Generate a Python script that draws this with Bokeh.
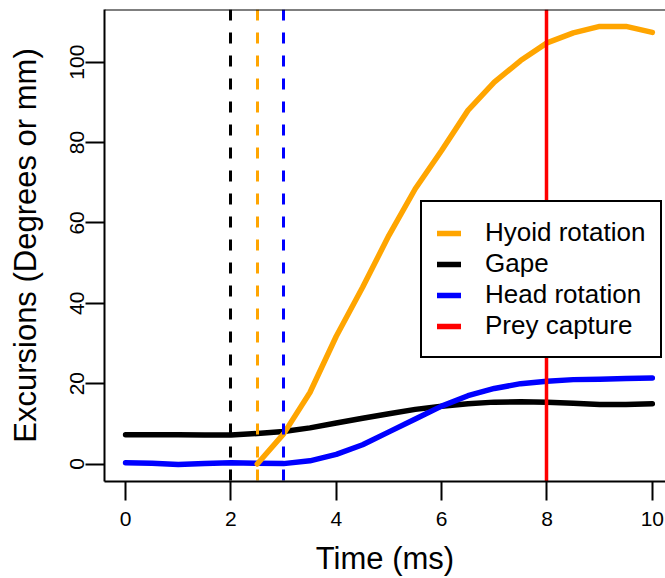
from bokeh.plotting import figure
from bokeh.models import Range1d, FixedTicker, Span, Legend, LegendItem
from bokeh.embed import file_html
from bokeh.resources import INLINE

# ---- data ----
time = [0, 0.5, 1, 1.5, 2, 2.5, 3, 3.5, 4, 4.5, 5, 5.5, 6, 6.5, 7, 7.5, 8, 8.5, 9, 9.5, 10]
gape = [7.3, 7.3, 7.3, 7.2, 7.2, 7.6, 8.1, 9.0, 10.2, 11.4, 12.5, 13.6, 14.4, 15.0, 15.4, 15.5, 15.4, 15.1, 14.8, 14.8, 15.0]
head_rotation = [0.3, 0.2, -0.1, 0.1, 0.3, 0.2, 0.1, 0.8, 2.4, 4.8, 8.0, 11.2, 14.4, 17.0, 18.8, 20.0, 20.6, 21.0, 21.1, 21.3, 21.4]
hyoid_time = [2.5, 3, 3.5, 4, 4.5, 5, 5.5, 6, 6.5, 7, 7.5, 8, 8.5, 9, 9.5, 10]
hyoid_rotation = [0, 7.5, 17.8, 31.8, 44.0, 56.9, 68.5, 78.0, 88.0, 95.0, 100.4, 104.8, 107.3, 108.9, 108.9, 107.4]

onset_times = [2, 2.5, 3]            # gape, hyoid, head onsets
onset_colors = ["black", "orange", "blue"]
prey_capture = [8]

x_ticks = [0, 2, 4, 6, 8, 10]
y_ticks = [0, 20, 40, 60, 80, 100]
legend_labels = ["Hyoid rotation", "Gape", "Head rotation", "Prey capture"]

FONT = "Liberation Sans"
Y_LO, Y_HI = -4.35, 113.1

p = figure(width=665, height=578, output_backend="svg", toolbar_location=None,
           x_range=Range1d(-0.4, 10.25), y_range=Range1d(Y_LO, Y_HI),
           min_border_left=104, min_border_right=0, min_border_top=9, min_border_bottom=97)
p.grid.visible = False
p.outline_line_color = None
p.background_fill_color = "white"
p.border_fill_color = "white"

lw = 5.5
r_gape = p.line(time, gape, line_color="black", line_width=lw, line_cap="round", line_join="round")
r_head = p.line(time, head_rotation, line_color="blue", line_width=lw, line_cap="round", line_join="round")
r_hyoid = p.line(hyoid_time, hyoid_rotation, line_color="orange", line_width=lw, line_cap="round", line_join="round")

p.vspan(x=onset_times, line_color=onset_colors, line_width=3, line_dash="11 12")
p.vspan(x=prey_capture, line_color="red", line_width=3.5)
# legend proxy for the prey-capture line (draws nothing in the plot)
r_prey = p.line(x=prey_capture, y=[float("nan")], line_color="red", line_width=lw, line_cap="round")

# top border of the box
p.add_layout(Span(location=Y_HI, dimension="width", line_color="black", line_width=2))

for ax in (p.xaxis[0], p.yaxis[0]):
    ax.axis_line_width = 2
    ax.axis_line_color = "black"
    ax.major_tick_line_width = 2
    ax.major_tick_line_color = "black"
    ax.major_tick_in = 0
    ax.minor_tick_line_color = None
    ax.major_label_text_font = FONT
    ax.major_label_text_font_size = "21px"
    ax.major_label_text_color = "black"
    ax.axis_label_text_font = FONT
    ax.axis_label_text_font_size = "31px"
    ax.axis_label_text_font_style = "normal"
    ax.axis_label_text_color = "black"

p.xaxis[0].ticker = FixedTicker(ticks=x_ticks)
p.yaxis[0].ticker = FixedTicker(ticks=y_ticks)
p.xaxis[0].axis_label = "Time (ms)"
p.yaxis[0].axis_label = "Excursions (Degrees or mm)"
p.xaxis[0].major_tick_out = 19
p.xaxis[0].major_label_standoff = 11
p.xaxis[0].axis_label_standoff = 12
p.yaxis[0].major_tick_out = 19
p.yaxis[0].major_label_standoff = 1
p.yaxis[0].axis_label_standoff = 25
p.yaxis[0].major_label_orientation = "vertical"

legend = Legend(items=[
    LegendItem(label=legend_labels[0], renderers=[r_hyoid]),
    LegendItem(label=legend_labels[1], renderers=[r_gape]),
    LegendItem(label=legend_labels[2], renderers=[r_head]),
    LegendItem(label=legend_labels[3], renderers=[r_prey]),
], location=(316, 123))
legend.label_text_font = FONT
legend.label_text_font_size = "26px"
legend.label_text_color = "black"
legend.border_line_color = "black"
legend.border_line_alpha = 1
legend.border_line_width = 2
legend.background_fill_color = "white"
legend.background_fill_alpha = 1
legend.padding = 15
legend.spacing = 0
legend.glyph_width = 24
legend.glyph_height = 30
legend.label_height = 30
legend.label_standoff = 24
legend.margin = 0
p.add_layout(legend)

open("out.html", "w").write(file_html(p, INLINE))
